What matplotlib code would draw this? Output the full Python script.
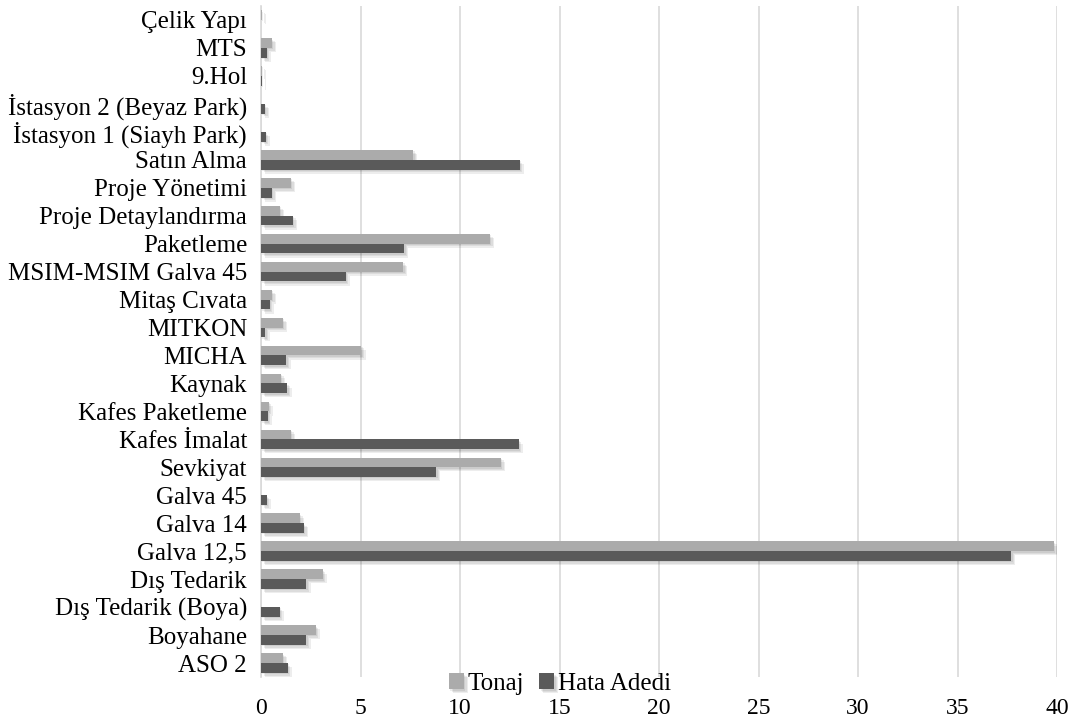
import matplotlib
matplotlib.use("Agg")
import matplotlib.pyplot as plt
import matplotlib.patheffects as pe
import numpy as np

plt.rcParams['font.family'] = ['Liberation Serif', 'DejaVu Serif']

# Categories listed bottom-to-top
categories = [
    "ASO 2", "Boyahane", "Dış Tedarik (Boya)", "Dış Tedarik", "Galva 12,5",
    "Galva 14", "Galva 45", "Sevkiyat", "Kafes İmalat", "Kafes Paketleme",
    "Kaynak", "MICHA", "MITKON", "Mitaş Cıvata", "MSIM-MSIM Galva 45",
    "Paketleme", "Proje Detaylandırma", "Proje Yönetimi", "Satın Alma",
    "İstasyon 1 (Siayh Park)", "İstasyon 2 (Beyaz Park)", "9.Hol", "MTS",
    "Çelik Yapı",
]
tonaj = [1.1, 2.74, 0.0, 3.1, 39.85, 1.95, 0.0, 12.05, 1.5, 0.38,
         1.0, 5.05, 1.1, 0.54, 7.15, 11.5, 0.95, 1.5, 7.65,
         0.0, 0.0, 0.04, 0.54, 0.05]
hata_adedi = [1.34, 2.28, 0.94, 2.28, 37.7, 2.15, 0.28, 8.8, 12.95, 0.33,
              1.33, 1.28, 0.22, 0.43, 4.25, 7.2, 1.6, 0.54, 13.0,
              0.23, 0.2, 0.03, 0.28, 0.0]
x_ticks = [0, 5, 10, 15, 20, 25, 30, 35, 40]

fig = plt.figure(figsize=(10.82, 7.2), dpi=100)
ax = fig.add_axes([261 / 1082, 1 - 677 / 720, 796 / 1082, 671 / 720])

y = np.arange(len(categories))
h = 0.35
# soft drop shadow built from a few faint offset copies
shadow = [pe.SimplePatchShadow(offset=(o, -o), shadow_rgbFace='#000000', alpha=0.07)
          for o in (1, 2, 3)] + [pe.Normal()]
b1 = ax.barh(y + h / 2, tonaj, height=h, color='#ababab', label='Tonaj', zorder=3)
b2 = ax.barh(y - h / 2, hata_adedi, height=h, color='#5a5a5a', label='Hata Adedi', zorder=3)
for bars in (b1, b2):
    for p in bars:
        p.set_path_effects(shadow)

ax.set_xlim(0, 40)
ax.set_ylim(-0.5, len(categories) - 0.5)
ax.set_xticks(x_ticks)
ax.set_xticklabels([str(t) for t in x_ticks], fontsize=17)
ax.set_yticks(y)
ax.set_yticklabels(categories, fontsize=18)
ax.tick_params(axis='both', length=0)
ax.tick_params(axis='y', pad=10)
ax.tick_params(axis='x', pad=15)

ax.grid(axis='x', color='#d9d9d9', linewidth=1.2, zorder=0)
ax.set_axisbelow(True)
for s in ('top', 'right', 'bottom'):
    ax.spines[s].set_visible(False)
ax.spines['left'].set_color('#d9d9d9')
ax.spines['left'].set_linewidth(1.2)

fig.legend(handles=[b1, b2], labels=['Tonaj', 'Hata Adedi'], loc='center',
           bbox_to_anchor=(560 / 1082, 1 - 684 / 720), ncol=2, frameon=False,
           fontsize=18, handlelength=0.6, handleheight=0.6, handletextpad=0.15,
           columnspacing=0.6, borderpad=0)

fig.savefig("out.png", dpi=100)
